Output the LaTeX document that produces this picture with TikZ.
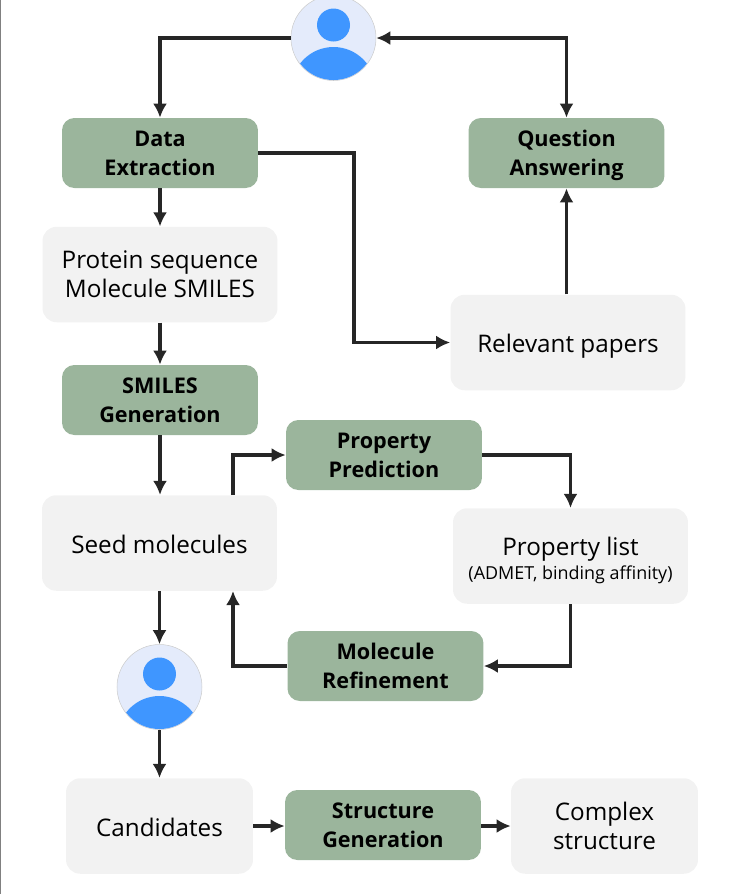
\documentclass[tikz,border=0pt]{standalone}
\usepackage{fontspec}
\setmainfont{Open Sans}
\usetikzlibrary{arrows.meta}
\definecolor{stepgreen}{HTML}{9BB59C}
\definecolor{datagrey}{HTML}{F2F2F2}
\definecolor{linedark}{HTML}{262626}
\definecolor{userblue}{HTML}{3F96FF}
\definecolor{userpale}{HTML}{E4EBFB}
\tikzset{
    stepbox/.style={rectangle, fill=stepgreen, rounded corners=7pt, minimum width=3.92cm, minimum height=1.4cm, align=center, font=\fontsize{12.3}{16.4}\selectfont\bfseries, inner sep=0pt, text=black, execute at begin node={\rule[-3.5pt]{0pt}{32.2pt}}},
    databox/.style={rectangle, fill=datagrey, rounded corners=8pt, minimum width=4.7cm, minimum height=1.91cm, align=center, font=\fontsize{13.8}{16.5}\selectfont, inner sep=0pt, text=black},
    oneline/.style={execute at begin node={\rule[-5pt]{0pt}{21.5pt}}},
    twoline/.style={execute at begin node={\rule[-4pt]{0pt}{34.6pt}}},
    usernode/.style={circle, fill=userpale, draw=black!20, line width=0.3pt, minimum size=1.7cm, inner sep=0pt},
    flow/.style={draw=linedark, line width=2pt, -{Latex[length=8pt,width=8pt]}}
}
\begin{document}
\begin{tikzpicture}[x=0.02cm, y=-0.02cm]
    \useasboundingbox (0,0) rectangle (743,894);
    \draw[gray, line width=1pt] (0,0) -- (0,894);
    % users
    \node[usernode] (usertop) at (333.5,38) {};
    \node[usernode] (userlow) at (159.5,687) {};
    \foreach \user in {usertop,userlow} {
        \begin{scope}[shift={(\user.center)}]
            \clip (0,0) circle (42);
            \fill[userblue] (0,-13) circle (16.5);
            \fill[userblue] (0,51) circle (42);
        \end{scope}
    }
    % steps
    \node[stepbox] (dataext) at (160,153) {Data\\Extraction};
    \node[stepbox] (question) at (566.5,153) {Question\\Answering};
    \node[stepbox] (smilesgen) at (160,400) {SMILES\\Generation};
    \node[stepbox] (proppred) at (384,455) {Property\\Prediction};
    \node[stepbox] (molref) at (385.5,666) {Molecule\\Refinement};
    \node[stepbox] (structgen) at (383,825) {Structure\\Generation};
    % data
    \node[databox, twoline] (protein) at (160,274.5) {Protein sequence\\Molecule SMILES};
    \node[databox, oneline] (papers) at (568,342.5) {Relevant papers};
    \node[databox, oneline] (seed) at (159.5,543) {Seed molecules};
    \node[databox, twoline] (proplist) at (570.5,556) {Property list\\[-3pt]{\fontsize{10.2}{12}\selectfont (ADMET, binding affinity)}};
    \node[databox, oneline, minimum width=3.74cm] (candidates) at (159.5,826) {Candidates};
    \node[databox, twoline, minimum width=3.74cm] (complex) at (604.5,826) {Complex\\structure};
    % connectors
    \coordinate (bend) at (354,153);
    \coordinate (seedtop) at (233,495);
    \coordinate (seedlow) at (233,591);
    \draw[flow] (usertop.west) -| (dataext.north);
    \draw[flow, {Latex[length=8pt,width=8pt]}-{Latex[length=8pt,width=8pt]}] (usertop.east) -| (question.north);
    \draw[flow] (dataext.south) -- (protein.north);
    \draw[flow] (dataext.east) -- (bend) |- (papers.west);
    \draw[flow] (papers.north -| question.south) -- (question.south);
    \draw[flow] (protein.south) -- (smilesgen.north);
    \draw[flow] (smilesgen.south) -- (seed.north -| smilesgen.south);
    \draw[flow] (seedtop) |- (proppred.west);
    \draw[flow] (proppred.east) -| (proplist.north);
    \draw[flow] (proplist.south) |- (molref.east);
    \draw[flow] (molref.west) -| (seedlow);
    \draw[flow] (seed.south) -- (userlow.north);
    \draw[flow] (userlow.south) -- (candidates.north);
    \draw[flow] (candidates.east) -- (structgen.west |- candidates.east);
    \draw[flow] (structgen.east |- complex.west) -- (complex.west);
\end{tikzpicture}
\end{document}
